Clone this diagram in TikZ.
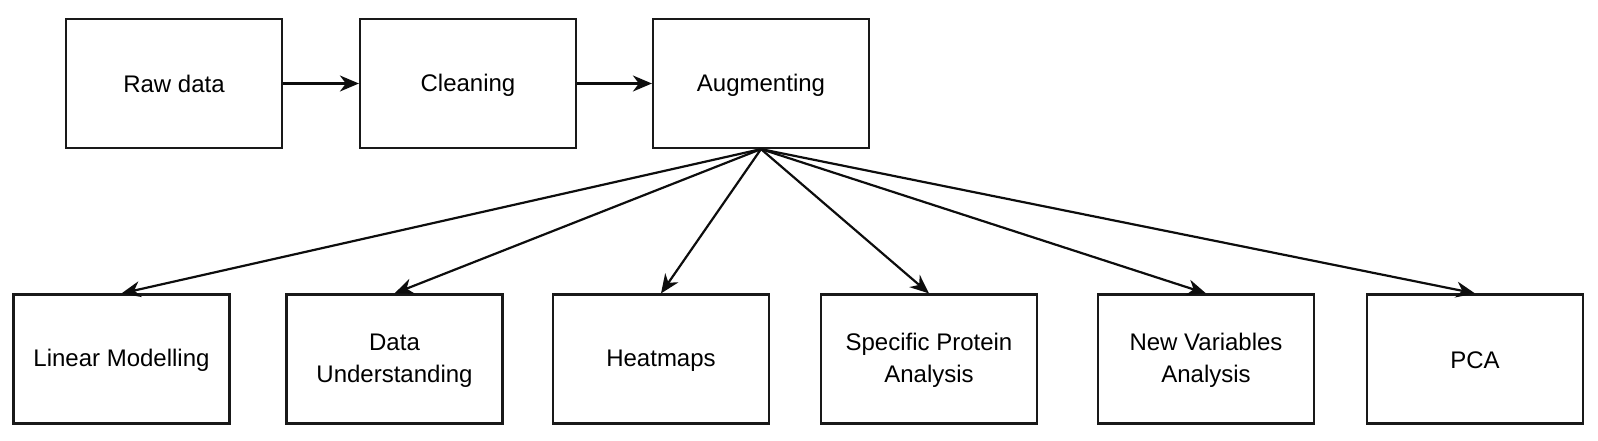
\documentclass[tikz,border=0pt]{standalone}
\usepackage{fontspec}
\setmainfont{Liberation Sans}
\usetikzlibrary{arrows.meta}
\newcommand\boxstrut{\rule[-1.8pt]{0pt}{22pt}}
\begin{document}
\begin{tikzpicture}[x=1pt,y=-1pt,
  stagebox/.style={draw=black!90, line width=2.2pt, rectangle, minimum width=216pt, minimum height=129pt, inner sep=0pt, align=center, font=\fontsize{24}{32}\selectfont},
  flow/.style={line width=2.2pt, draw=black!95, -{Stealth[length=19pt,width=16pt,inset=6pt]}}]
\useasboundingbox (0,0) rectangle (1598,441);
\node[stagebox] (raw) at (174,83.5) {\boxstrut Raw data};
\node[stagebox] (clean) at (468,83.5) {\boxstrut Cleaning};
\node[stagebox] (aug) at (761,83.5) {\boxstrut Augmenting};
\node[stagebox] (lm) at (121.5,359) {\boxstrut Linear Modelling};
\node[stagebox] (du) at (394.5,359) {\boxstrut Data\\\boxstrut Understanding};
\node[stagebox] (hm) at (661,359) {\boxstrut Heatmaps};
\node[stagebox] (sp) at (929,359) {\boxstrut Specific Protein\\\boxstrut Analysis};
\node[stagebox] (nv) at (1206,359) {\boxstrut New Variables\\\boxstrut Analysis};
\node[stagebox] (pca) at (1475,359) {\boxstrut PCA};
\draw[flow] (raw) -- (clean);
\draw[flow] (clean) -- (aug);
\foreach \t in {lm,du,hm,sp,nv,pca}
  \draw[flow] (aug.south) -- (\t.north);
\end{tikzpicture}
\end{document}
